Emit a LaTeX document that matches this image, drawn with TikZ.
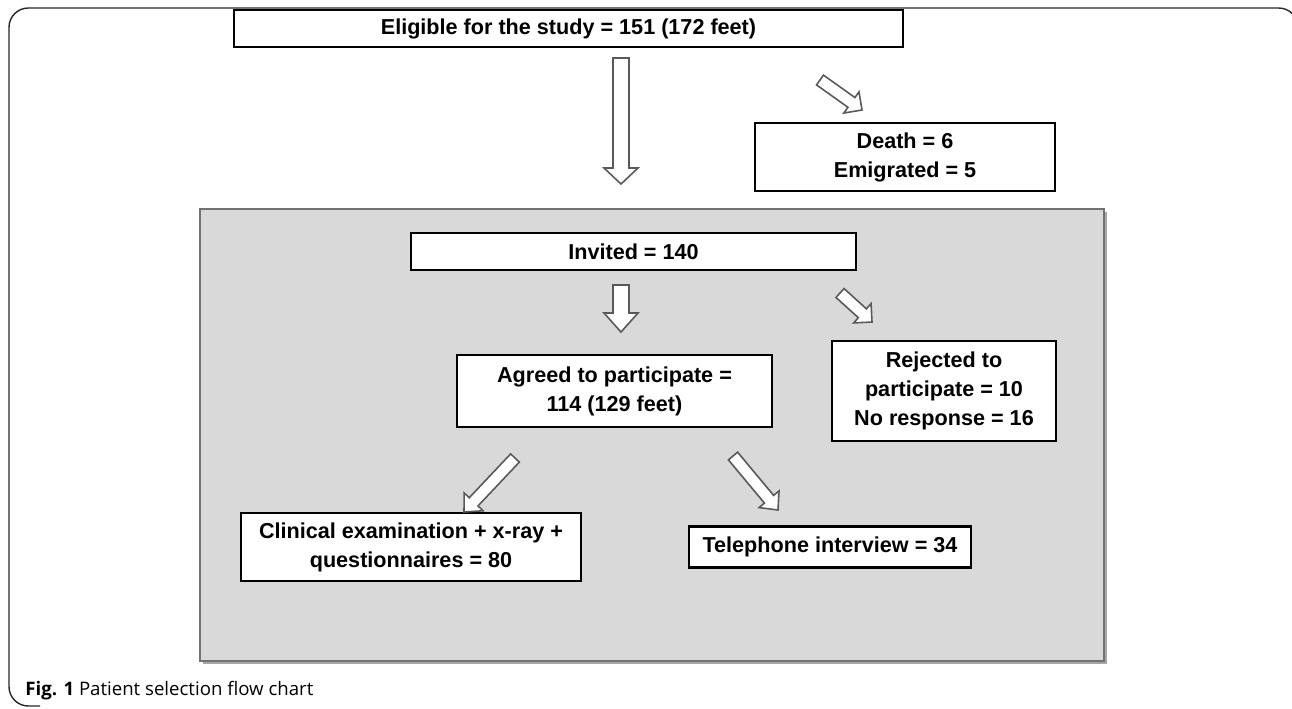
\documentclass[tikz,border=0pt]{standalone}
\usepackage{fontspec}
\setmainfont{Liberation Sans}
\newfontfamily\capfont{Open Sans}
\usetikzlibrary{calc}

\tikzset{
    box/.style={draw=black, line width=1.3pt, fill=white, align=center, inner sep=0pt,
                font=\fontsize{12.3}{16.5}\selectfont\bfseries},
    arrowline/.style={draw=black!65, line width=0.9pt, fill=white, line join=miter},
}

% hollow block arrow from #1 to #2, half shaft, half head, head length (px)
\newcommand{\flowarrow}[5]{%
    \draw[arrowline] ($(#1)!#3*0.02cm!90:(#2)$)
        -- ($($(#2)!#5*0.02cm!(#1)$)!#3*0.02cm!90:(#2)$)
        -- ($($(#2)!#5*0.02cm!(#1)$)!#4*0.02cm!90:(#2)$)
        -- (#2)
        -- ($($(#2)!#5*0.02cm!(#1)$)!#4*0.02cm!-90:(#2)$)
        -- ($($(#2)!#5*0.02cm!(#1)$)!#3*0.02cm!-90:(#2)$)
        -- ($(#1)!#3*0.02cm!-90:(#2)$) -- cycle;}

\begin{document}
\begin{tikzpicture}[x=0.02cm, y=-0.02cm]
    \useasboundingbox (0,0) rectangle (1292,708);

    % outer frame
    \begin{scope}
        \clip (0,0) rectangle (1292,708);
        \draw[black!85, line width=0.8pt, rounded corners=11]
            (1298,40) -- (1298,8) -- (9,8) -- (9,706) -- (40,706);
    \end{scope}

    % grey panel
    \fill[black!35] (203,212) rectangle (1107,664);
    \draw[black!55, fill=black!15, line width=0.8pt] (200,209) rectangle (1104,661);

    % boxes
    \node[box, minimum width=669*0.02cm, minimum height=37*0.02cm] (eligible) at (568.5,28.5)
        {Eligible for the study = 151 (172 feet)};
    \node[box, minimum width=300*0.02cm, minimum height=68*0.02cm] (death) at (905,157)
        {Death = 6\\Emigrated = 5};
    \node[box, minimum width=445*0.02cm, minimum height=37*0.02cm] (invited) at (633.5,251.5)
        {Invited = 140};
    \node[box, minimum width=315*0.02cm, minimum height=72*0.02cm] (agreed) at (614.5,391)
        {Agreed to participate =\\114 (129 feet)};
    \node[box, minimum width=224*0.02cm, minimum height=100*0.02cm] (rejected) at (944,391)
        {Rejected to\\participate = 10\\No response = 16};
    \node[box, minimum width=340*0.02cm, minimum height=68*0.02cm] (clinical) at (411,547)
        {Clinical examination + x-ray +\\questionnaires = 80};
    \node[box, minimum width=282*0.02cm, minimum height=41*0.02cm] (phone) at (830,547)
        {Telephone interview = 34};

    % arrow ends
    \coordinate (a1s) at (621,58);  \coordinate (a1e) at (621,184);
    \coordinate (a2s) at (820,80);  \coordinate (a2e) at (862,110);
    \coordinate (a3s) at (621,285); \coordinate (a3e) at (621,332);
    \coordinate (a4s) at (840,293); \coordinate (a4e) at (872,322);
    \coordinate (a5s) at (515,458); \coordinate (a5e) at (464,512);
    \coordinate (a6s) at (733,456); \coordinate (a6e) at (778,510);

    % block arrows
    \flowarrow{a1s}{a1e}{8}{17}{16}
    \flowarrow{a2s}{a2e}{6}{13}{13}
    \flowarrow{a3s}{a3e}{8}{17}{19}
    \flowarrow{a4s}{a4e}{6}{13}{13}
    \flowarrow{a5s}{a5e}{6}{13}{14}
    \flowarrow{a6s}{a6e}{6}{13}{14}

    % caption
    \node[anchor=base west, inner sep=0pt, font=\capfont\fontsize{10.6}{12}\selectfont] (caption) at (25,695)
        {\textbf{Fig. 1} Patient selection flow chart};
\end{tikzpicture}
\end{document}
